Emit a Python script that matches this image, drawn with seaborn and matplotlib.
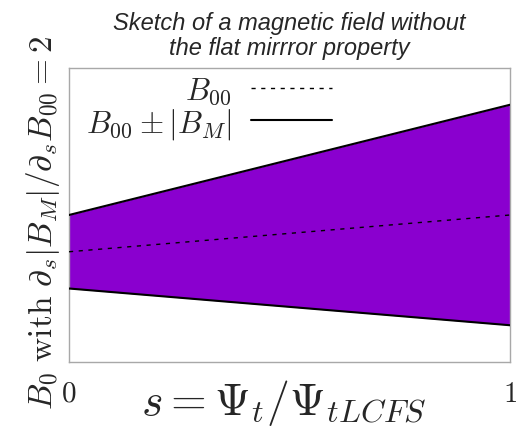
import matplotlib
matplotlib.use("Agg")
import matplotlib.pyplot as plt
import seaborn as sns
import pandas as pd

# Radial coordinate and field profiles (arbitrary units)
s = [0.0, 1.0]
b00 = [3.0, 4.0]       # mean field B00
bm = [1.0, 3.0]        # mirror amplitude |B_M|
xticks = [0, 1]
xtick_labels = ["0", "1"]

sns.set_theme(style="white")
plt.rcParams["mathtext.fontset"] = "cm"
plt.rcParams["font.family"] = ["DejaVu Serif"]

upper = [m + a for m, a in zip(b00, bm)]
lower = [m - a for m, a in zip(b00, bm)]
df = pd.DataFrame({"s": s, "b00": b00, "upper": upper, "lower": lower})

fig = plt.figure(figsize=(5.16, 4.27), dpi=100)
ax = fig.add_axes([69 / 516, 1 - 363 / 427, 441 / 516, 294 / 427])

ax.fill_between(df["s"], df["lower"], df["upper"], color="#8a00cf", lw=0, zorder=1)
sns.lineplot(data=df, x="s", y="b00", ax=ax, color="black", lw=1.0,
             linestyle=(0, (3, 4)), label=r"$B_{00}$", zorder=3)
sns.lineplot(data=df, x="s", y="upper", ax=ax, color="black", lw=1.5,
             label=r"$B_{00} \pm |B_M|$", zorder=3)
sns.lineplot(data=df, x="s", y="lower", ax=ax, color="black", lw=1.5, zorder=3)

ax.set_xlim(0, 1)
ax.set_ylim(0, 8)
ax.set_xticks(xticks)
ax.set_xticklabels([f"${t}$" for t in xtick_labels], fontsize=21)
ax.set_yticks([])
ax.tick_params(axis="x", length=0, pad=12)

for sp in ax.spines.values():
    sp.set_color("#a8a8a8")
    sp.set_linewidth(1.0)

ax.set_xlabel(r"$s = \Psi_t/\Psi_{tLCFS}$", fontsize=33, labelpad=-21)
ax.xaxis.label.set_x(0.486)
ax.set_ylabel(r"$B_0\ \mathrm{with}\ \partial_s|B_M|/\partial_s B_{00} = 2$",
              fontsize=24, labelpad=5)
ax.yaxis.label.set_y(0.476)

ax.set_title("Sketch of a magnetic field without\nthe flat mirrror property",
             fontsize=17, style="italic", family="Liberation Sans",
             linespacing=1.1, pad=10)

ax.legend(loc="upper right", bbox_to_anchor=(0.596, 0.978), frameon=False,
          markerfirst=False, fontsize=22.5, handlelength=2.6,
          handletextpad=0.6, borderaxespad=0, borderpad=0, labelspacing=0.0)

fig.savefig("out.png", dpi=100)
